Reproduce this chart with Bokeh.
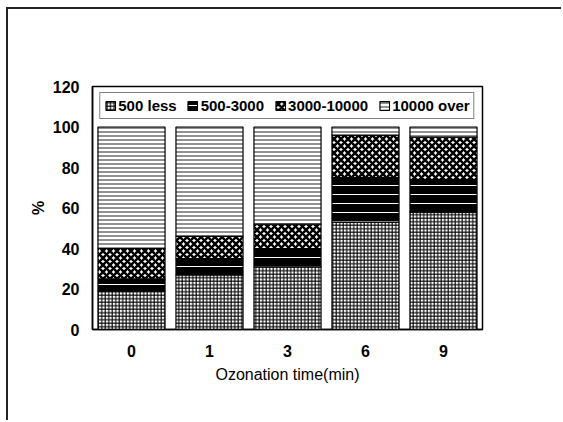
from bokeh.plotting import figure
from bokeh.models import ColumnDataSource, Legend, LegendItem, FactorRange, FixedTicker
from bokeh.embed import file_html
from bokeh.resources import INLINE

# ---- data ----
times = ["0", "1", "3", "6", "9"]
less500 = [19, 27, 31, 53, 58]
r500_3000 = [6, 8, 9, 22, 16]
r3000_10000 = [15, 11, 12, 21, 21]
over10000 = [60, 54, 48, 4, 5]
series_names = ["500 less", "500-3000", "3000-10000", "10000 over"]
y_ticks = [0, 20, 40, 60, 80, 100, 120]

src = ColumnDataSource(dict(t=times, a=less500, b=r500_3000, c=r3000_10000, d=over10000))

p = figure(width=555, height=413, x_range=FactorRange(*times), y_range=(0, 120),
           output_backend="svg", toolbar_location=None,
           min_border_left=84, min_border_right=81, min_border_top=77, min_border_bottom=93)
p.margin = (7, 0, 0, 6)
p.styles = {"border-top": "2px solid #222222", "border-left": "2px solid #222222"}

rs = p.vbar_stack(["a", "b", "c", "d"], x="t", width=0.86, source=src,
                  fill_color=["white", "black", "white", "white"],
                  line_color="black", line_width=1.2,
                  hatch_pattern=["cross", "horizontal_line", "diagonal_cross", "horizontal_line"],
                  hatch_color=["black", "white", "black", "#222222"],
                  hatch_scale=[3.5, 9, 7, 4],
                  hatch_weight=[1.1, 1, 2.6, 1])

legend = Legend(items=[LegendItem(label=n, renderers=[r]) for n, r in zip(series_names, rs)],
                orientation="horizontal", location="top_center", margin=6,
                padding=4, spacing=10, label_standoff=2, glyph_width=12, glyph_height=11,
                label_text_font="Liberation Sans", label_text_font_style="bold",
                label_text_font_size="15px", label_height=14, label_text_color="black",
                border_line_color="black", border_line_width=1.5,
                background_fill_color="white", background_fill_alpha=1)
p.add_layout(legend)

p.xgrid.visible = False
p.ygrid.visible = False
p.outline_line_color = "black"
p.outline_line_width = 1.5

p.yaxis.ticker = FixedTicker(ticks=y_ticks)
for ax in (p.xaxis[0], p.yaxis[0]):
    ax.major_tick_line_color = None
    ax.minor_tick_line_color = None
    ax.axis_line_color = "black"
    ax.axis_line_width = 1.5
    ax.major_label_text_font = "Liberation Sans"
    ax.major_label_text_font_style = "bold"
    ax.major_label_text_font_size = "16px"
    ax.major_label_text_color = "black"
    ax.axis_label_text_font = "Liberation Sans"
    ax.axis_label_text_font_size = "16px"
    ax.axis_label_text_color = "black"

p.yaxis.axis_label = "%"
p.yaxis.axis_label_text_font_style = "bold"
p.yaxis.major_label_standoff = 7
p.yaxis.axis_label_standoff = 3
p.xaxis.axis_label = "Ozonation time(min)"
p.xaxis.axis_label_text_font_style = "normal"
p.xaxis.major_label_standoff = 9
p.xaxis.axis_label_standoff = 6

open("out.html", "w").write(file_html(p, INLINE))
